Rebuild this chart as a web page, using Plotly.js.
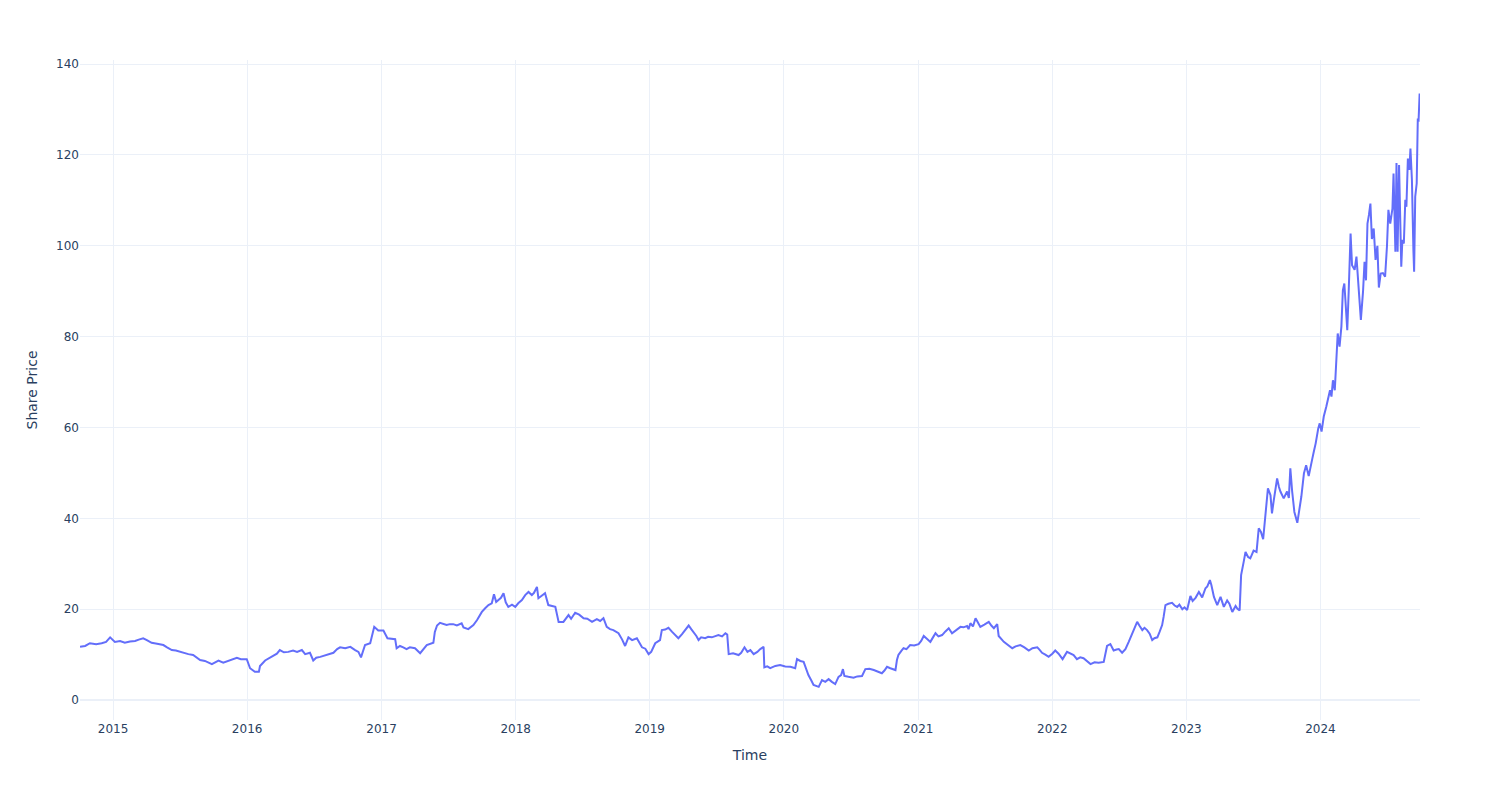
<!DOCTYPE html>
<html>
<head>
<meta charset="utf-8">
<script src="https://cdn.plot.ly/plotly-3.0.1.min.js"></script>
<style>html,body{margin:0;padding:0;background:#fff;}#chart{width:1500px;height:800px;}</style>
</head>
<body>
<div id="chart"></div>
<script>
const dates = [
"2014-10-03","2014-10-17","2014-10-30","2014-11-16","2014-12-01","2014-12-13","2014-12-24",
"2015-01-06","2015-01-20","2015-02-02","2015-02-16","2015-03-02","2015-03-12","2015-03-24","2015-04-03","2015-04-16","2015-05-01","2015-05-18","2015-05-28","2015-06-10","2015-06-21","2015-07-05","2015-07-25","2015-08-07","2015-08-18","2015-08-26","2015-09-08","2015-09-27","2015-10-06","2015-10-15","2015-10-28","2015-11-10","2015-11-21","2015-12-04","2015-12-15","2015-12-31",
"2016-01-09","2016-01-22","2016-02-02","2016-02-05","2016-02-19","2016-03-01","2016-03-12","2016-03-22","2016-03-30","2016-04-10","2016-04-22","2016-05-05","2016-05-16","2016-05-29","2016-06-07","2016-06-20","2016-06-29","2016-07-07","2016-07-18","2016-08-05","2016-08-23","2016-09-02","2016-09-10","2016-09-24","2016-10-08","2016-10-21","2016-10-30","2016-11-06","2016-11-17","2016-12-01","2016-12-05","2016-12-12","2016-12-23",
"2017-01-06","2017-01-17","2017-01-27","2017-02-07","2017-02-11","2017-02-20","2017-03-01","2017-03-10","2017-03-19","2017-04-02","2017-04-16","2017-04-24","2017-05-04","2017-05-22","2017-05-26","2017-06-01","2017-06-09","2017-06-27","2017-07-06","2017-07-15","2017-07-25","2017-08-07","2017-08-12","2017-08-25","2017-09-08","2017-09-18","2017-10-01","2017-10-10","2017-10-19","2017-10-28","2017-11-03","2017-11-09","2017-11-15","2017-11-22","2017-11-29","2017-12-05","2017-12-12","2017-12-22","2017-12-31",
"2018-01-08","2018-01-18","2018-01-27","2018-02-05","2018-02-14","2018-02-20","2018-02-28","2018-03-04","2018-03-11","2018-03-22","2018-03-31","2018-04-08","2018-04-19","2018-04-28","2018-05-11","2018-05-25","2018-06-01","2018-06-12","2018-06-23","2018-07-05","2018-07-15","2018-07-28","2018-08-10","2018-08-19","2018-08-28","2018-09-06","2018-09-15","2018-09-24","2018-10-08","2018-10-18","2018-10-26","2018-11-04","2018-11-14","2018-11-27","2018-12-11","2018-12-20","2018-12-29",
"2019-01-05","2019-01-16","2019-01-29","2019-02-03","2019-02-12","2019-02-21","2019-03-03","2019-03-11","2019-03-20","2019-03-30","2019-04-08","2019-04-17","2019-04-24","2019-04-30","2019-05-08","2019-05-14","2019-05-21","2019-06-01","2019-06-09","2019-06-19","2019-06-28","2019-07-07","2019-07-17","2019-07-26","2019-07-31","2019-08-04","2019-08-16","2019-08-31","2019-09-07","2019-09-16","2019-09-24","2019-10-02","2019-10-11","2019-10-21","2019-10-29","2019-11-07","2019-11-09","2019-11-17","2019-11-25","2019-12-09","2019-12-22",
"2020-01-05","2020-01-19","2020-02-01","2020-02-06","2020-02-15","2020-02-24","2020-03-02","2020-03-08","2020-03-16","2020-03-22","2020-04-05","2020-04-14","2020-04-23","2020-05-02","2020-05-11","2020-05-20","2020-05-29","2020-06-05","2020-06-10","2020-06-14","2020-06-25","2020-07-09","2020-07-19","2020-08-01","2020-08-10","2020-08-21","2020-09-02","2020-09-12","2020-09-24","2020-10-01","2020-10-08","2020-10-17","2020-10-31","2020-11-04","2020-11-08","2020-11-16","2020-11-22","2020-11-30","2020-12-10","2020-12-21",
"2021-01-02","2021-01-09","2021-01-16","2021-01-23","2021-02-03","2021-02-11","2021-02-17","2021-02-25","2021-03-07","2021-03-16","2021-03-25","2021-04-03","2021-04-12","2021-04-26","2021-05-04","2021-05-14","2021-05-18","2021-05-23","2021-05-30","2021-06-06","2021-06-11","2021-06-19","2021-06-30","2021-07-12","2021-07-19","2021-07-26","2021-08-04","2021-08-08","2021-08-22","2021-09-01","2021-09-14","2021-09-23","2021-10-06","2021-10-17","2021-10-29","2021-11-08","2021-11-21","2021-11-27","2021-12-04","2021-12-13","2021-12-22",
"2022-01-01","2022-01-09","2022-01-18","2022-01-29","2022-02-10","2022-02-19","2022-02-28","2022-03-09","2022-03-18","2022-03-27","2022-04-06","2022-04-15","2022-04-26","2022-05-07","2022-05-21","2022-05-30","2022-06-08","2022-06-17","2022-06-25","2022-07-01","2022-07-10","2022-07-19","2022-07-28","2022-08-07","2022-08-13","2022-08-20","2022-08-26","2022-09-03","2022-09-09","2022-09-16","2022-09-23","2022-09-30","2022-10-06","2022-10-14","2022-10-20","2022-10-27","2022-10-31","2022-11-05","2022-11-13","2022-11-23","2022-11-30","2022-12-07","2022-12-13","2022-12-21","2022-12-27",
"2023-01-03","2023-01-12","2023-01-18","2023-01-26","2023-02-04","2023-02-13","2023-02-22","2023-02-27","2023-03-06","2023-03-10","2023-03-17","2023-03-26","2023-04-04","2023-04-13","2023-04-22","2023-04-28","2023-05-06","2023-05-15","2023-05-20","2023-05-26","2023-05-30","2023-06-06","2023-06-11","2023-06-18","2023-06-24","2023-07-03","2023-07-11","2023-07-17","2023-07-23","2023-07-29","2023-08-04","2023-08-11","2023-08-18","2023-08-22","2023-08-27","2023-08-31","2023-09-05","2023-09-10","2023-09-14","2023-09-23","2023-10-02","2023-10-07","2023-10-11","2023-10-16","2023-10-22","2023-10-30","2023-11-05","2023-11-10","2023-11-17","2023-11-23","2023-11-30","2023-12-05","2023-12-10","2023-12-14","2023-12-19","2023-12-26","2023-12-30",
"2024-01-04","2024-01-10","2024-01-17","2024-01-22","2024-01-27","2024-01-31","2024-02-04","2024-02-09","2024-02-13","2024-02-17","2024-02-22","2024-02-27","2024-03-02","2024-03-06","2024-03-09","2024-03-14","2024-03-18","2024-03-23","2024-03-27","2024-04-03","2024-04-08","2024-04-14","2024-04-20","2024-04-26","2024-04-30","2024-05-04","2024-05-08","2024-05-12","2024-05-16","2024-05-20","2024-05-25","2024-05-30","2024-06-04","2024-06-08","2024-06-13","2024-06-19","2024-06-25","2024-06-30","2024-07-04","2024-07-09","2024-07-15","2024-07-18","2024-07-23","2024-07-26","2024-07-29","2024-08-02","2024-08-08","2024-08-11","2024-08-15","2024-08-19","2024-08-22","2024-08-26","2024-08-30","2024-09-02","2024-09-06","2024-09-10","2024-09-12","2024-09-15","2024-09-19","2024-09-22","2024-09-24","2024-09-27"
];
const prices = [
11.7,11.9,12.5,12.3,12.5,12.8,13.8,
12.8,13.0,12.6,12.9,13.0,13.3,13.6,13.2,12.6,12.4,12.1,11.6,11.0,10.9,10.5,10.1,9.9,9.2,8.8,8.6,7.9,8.3,8.7,8.2,8.6,8.8,9.3,9.0,9.0,
7.0,6.2,6.2,7.5,8.7,9.2,9.7,10.2,11.0,10.5,10.6,10.9,10.6,11.0,10.1,10.4,8.7,9.3,9.5,9.9,10.4,11.2,11.6,11.4,11.7,11.0,10.6,9.4,12.1,12.5,13.9,16.1,15.3,
15.3,13.6,13.5,13.4,11.4,11.9,11.6,11.2,11.6,11.4,10.3,11.1,12.1,12.6,15.0,16.4,17.0,16.5,16.7,16.7,16.4,16.9,16.0,15.6,16.5,17.6,19.4,20.2,20.9,21.3,23.3,21.6,22.0,22.5,23.5,21.5,20.5,21.0,20.5,
21.3,22.0,23.1,23.8,23.1,23.6,24.9,22.4,22.9,23.5,20.9,20.8,20.5,17.2,17.2,18.7,17.9,19.2,18.8,18.0,17.9,17.2,17.8,17.4,18.0,16.1,15.6,15.4,14.7,13.3,11.9,13.8,13.2,13.6,11.6,11.3,10.1,
10.6,12.5,13.2,15.4,15.5,15.9,15.0,14.3,13.6,14.5,15.5,16.4,15.6,15.0,14.1,13.2,13.8,13.6,13.9,13.8,14.1,14.3,14.0,14.7,14.4,10.1,10.3,9.9,10.4,11.6,10.6,11.0,10.1,10.6,11.2,11.7,7.2,7.4,7.0,7.5,7.7,
7.4,7.3,7.0,9.0,8.6,8.4,6.8,5.5,4.3,3.3,2.9,4.4,4.0,4.6,4.0,3.5,5.1,5.5,6.8,5.3,5.1,4.9,5.2,5.3,6.8,6.9,6.6,6.3,5.9,6.5,7.3,7.0,6.6,8.8,9.9,10.8,11.4,11.2,12.1,12.0,
12.3,13.0,14.1,13.6,12.8,13.9,14.7,14.0,14.3,15.1,15.8,14.7,15.3,16.1,16.0,16.3,15.6,16.9,16.2,18.0,17.3,16.1,16.6,17.2,16.4,15.8,16.7,14.1,12.8,12.2,11.4,11.8,12.1,11.6,10.9,11.4,11.6,11.1,10.4,10.0,9.5,
10.2,10.9,10.2,9.0,10.6,10.3,9.9,9.0,9.4,9.2,8.6,7.9,8.3,8.2,8.4,11.9,12.3,10.9,11.1,11.2,10.4,11.2,12.8,14.8,16.2,17.2,16.4,15.4,15.9,15.4,14.6,13.2,13.6,13.8,15.0,16.5,18.3,20.9,21.2,21.4,20.8,20.5,21.0,20.0,20.4,
19.8,22.9,21.8,22.5,23.8,22.6,24.6,25.0,26.4,25.3,22.7,20.9,22.7,20.5,21.9,21.2,19.4,20.7,20.1,19.7,27.5,30.4,32.6,31.5,31.2,32.9,32.6,37.8,37.0,35.4,40.7,46.6,45.1,41.1,44.0,46.6,48.8,46.9,45.9,44.4,45.9,44.5,51.0,45.9,41.4,39.0,41.8,44.8,49.9,51.7,49.3,51.7,53.2,54.7,56.5,59.8,60.9,
59.1,62.4,64.6,66.8,68.2,66.8,70.4,68.2,73.4,80.7,77.8,82.2,90.2,91.7,88.0,81.4,90.2,102.7,95.7,94.7,97.6,91.0,83.7,90.0,96.5,92.4,104.9,106.8,109.3,101.5,103.8,96.9,100.0,90.8,93.9,94.0,93.2,99.8,107.9,104.9,108.2,115.9,98.7,118.2,98.7,117.8,95.4,101.3,100.5,110.1,108.6,119.2,116.7,121.4,114.5,99.1,94.3,110.8,113.7,128.0,127.3,133.5
];
const xTitle = "Time";
const yTitle = "Share Price";

const trace = {
  x: dates, y: prices, type: "scatter", mode: "lines",
  line: {color: "#636efa", width: 2}, name: "Share Price"
};
const layout = {
  width: 1500, height: 800,
  margin: {l: 80, r: 80, t: 60, b: 80},
  paper_bgcolor: "#ffffff", plot_bgcolor: "#ffffff",
  font: {family: "DejaVu Sans, Verdana, sans-serif", color: "#2a3f5f", size: 12},
  showlegend: false,
  xaxis: {
    type: "date", range: ["2014-10-03", "2024-09-28"],
    title: {text: xTitle, font: {size: 14}, standoff: 15},
    gridcolor: "#EBF0F8", zeroline: false, showline: false, automargin: true,
    tick0: "2015-01-01", dtick: "M12", tickformat: "%Y", ticks: ""
  },
  yaxis: {
    range: [-4.4, 140.9],
    title: {text: yTitle, font: {size: 14}, standoff: 15},
    gridcolor: "#EBF0F8", zeroline: true, zerolinecolor: "#EBF0F8", zerolinewidth: 2,
    showline: false, automargin: true, dtick: 20, tick0: 0, ticks: ""
  }
};
Plotly.newPlot("chart", [trace], layout, {displayModeBar: false, staticPlot: true});
</script>
</body>
</html>
